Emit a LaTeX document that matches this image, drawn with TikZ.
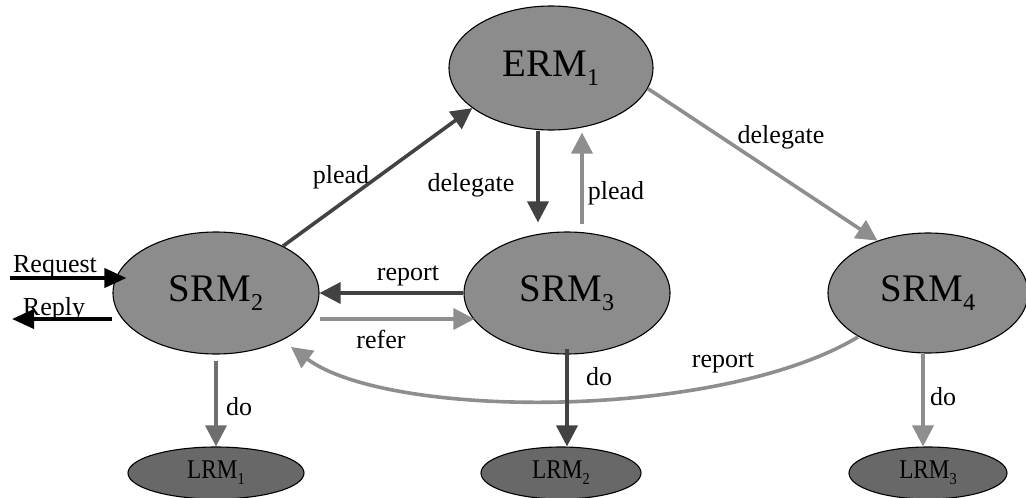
\documentclass[tikz,border=0pt]{standalone}
\usepackage{fontspec}
\setmainfont{Liberation Serif}
\usepackage{graphicx}
\usetikzlibrary{shapes.geometric,arrows.meta,calc}

\definecolor{nodefill}{HTML}{8C8C8C}
\definecolor{leaffill}{HTML}{686868}
\definecolor{darkline}{HTML}{424242}
\definecolor{lightline}{HTML}{8E8E8E}
\definecolor{midline}{HTML}{6E6E6E}

% lowered, reduced index after a name (SRM_2 etc.)
\newcommand\lowsub[1]{\raisebox{-0.22em}{\scalebox{0.62}{#1}}}

\begin{document}
\begin{tikzpicture}[x=1pt, y=-1pt,
  resnode/.style={ellipse, draw=black, line width=1.1pt, fill=nodefill,
    minimum width=206pt, minimum height=122pt, inner sep=0pt,
    font=\fontsize{39}{39}\selectfont},
  leafnode/.style={ellipse, draw=black, line width=1.1pt, fill=leaffill,
    minimum height=52pt, inner sep=0pt, font=\fontsize{27}{27}\selectfont},
  lbl/.style={font=\fontsize{26}{26}\selectfont, inner sep=0pt, anchor=base},
  flow/.style={line width=3.6pt, -{Triangle[length=21pt,width=21pt]}},
  darkflow/.style={flow, color=darkline},
  lightflow/.style={flow, color=lightline},
  midflow/.style={flow, color=midline},
  ioflow/.style={line width=3.8pt, color=black, -{Triangle[length=22pt,width=19pt]}}]

\useasboundingbox (0,0) rectangle (1026,498);

% resource managers
\node[resnode, minimum width=204pt, minimum height=124pt] (erm1) at (551,68) {ERM\lowsub{1}};
\node[resnode] (srm2) at (216,293) {SRM\lowsub{2}};
\node[resnode] (srm3) at (567,293) {SRM\lowsub{3}};
\node[resnode, minimum width=200pt, minimum height=120pt] (srm4) at (928,293) {SRM\lowsub{4}};
\node[leafnode, minimum width=176pt] (lrm1) at (216,473) {\scalebox{0.86}[1]{LRM\lowsub{1}}};
\node[leafnode, minimum width=160pt] (lrm2) at (561,473) {\scalebox{0.86}[1]{LRM\lowsub{2}}};
\node[leafnode, minimum width=158pt] (lrm3) at (928,473) {\scalebox{0.86}[1]{LRM\lowsub{3}}};

% external request / reply
\coordinate (reqsrc) at (10,278);
\coordinate (replydst) at (12,319);
\draw[ioflow] (reqsrc) -- ($(srm2.west)+(14,-15)$);
\draw[ioflow] ($(srm2.west)+(0,26)$) -- (replydst);

% messages between managers
\draw[darkflow] (srm2.35) -- (erm1.207);
\draw[darkflow] ($(erm1.south)+(-13,0)$) -- ($(srm3.north)+(-29,-9)$);
\draw[lightflow] ($(srm3.north)+(15,-7)$) -- ($(erm1.south)+(31,2)$);
\draw[lightflow] (erm1.-12) -- (srm4.134);
\draw[darkflow] (srm3.west) -- (srm2.east);
\draw[lightflow] ($(srm2.east)+(0,26)$) -- ($(srm3.west)+(11,26)$);
\draw[lightflow] ($(srm4.center)+(-70,44)$) .. controls (720,420) and (390,420) .. ($(srm2.center)+(75,54)$);

% work handed to local managers
\draw[midflow] ($(srm2.south)+(0,6)$) -- (lrm1.north);
\draw[darkflow] ($(srm3.south)+(0,-6)$) -- ($(lrm2.north)+(6,0)$);
\draw[lightflow] ($(srm4.south)+(-5,0)$) -- ($(lrm3.north)+(-5,0)$);

% labels
\node[lbl] (lreq) at (55,272) {Request};
\node[lbl] (lrep) at (54,315) {Reply};
\node[lbl] (lplead1) at (341,183) {plead};
\node[lbl] (ldeleg1) at (471,191) {delegate};
\node[lbl] (lplead2) at (616,199) {plead};
\node[lbl] (ldeleg2) at (781,143) {delegate};
\node[lbl] (lrep1) at (408,280) {report};
\node[lbl] (lrefer) at (381,348) {refer};
\node[lbl] (lrep2) at (723,367) {report};
\node[lbl] (ldo1) at (239,415) {do};
\node[lbl] (ldo2) at (599,385) {do};
\node[lbl] (ldo3) at (943,405) {do};
\end{tikzpicture}
\end{document}
